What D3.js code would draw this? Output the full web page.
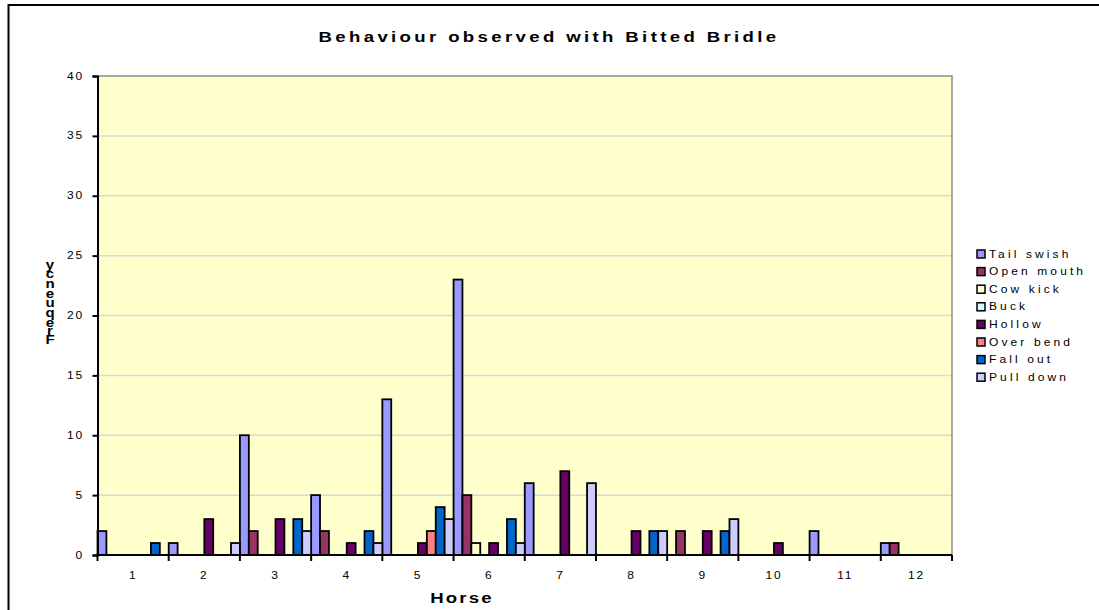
<!DOCTYPE html>
<html>
<head>
<meta charset="utf-8">
<script src="https://cdn.jsdelivr.net/npm/d3@7"></script>
<style>
  html, body { margin: 0; padding: 0; background: #fff; }
  svg { display: block; }
  text { font-family: "Liberation Sans", Arial, sans-serif; fill: #000; }
</style>
</head>
<body>
<script>
// Data
const horses = ["1", "2", "3", "4", "5", "6", "7", "8", "9", "10", "11", "12"];
const seriesNames = ["Tail swish", "Open mouth", "Cow kick", "Buck", "Hollow", "Over bend", "Fall out", "Pull down"];
const seriesColors = ["#9999FF", "#993366", "#FFFFCC", "#CCFFFF", "#660066", "#FF8080", "#0066CC", "#CCCCFF"];
const tailSwish = [2, 1, 10, 5, 13, 23, 6, 0, 0, 0, 2, 1];
const openMouth = [0, 0, 2, 2, 0, 5, 0, 0, 2, 0, 0, 1];
const cowKick   = [0, 0, 0, 0, 0, 1, 0, 0, 0, 0, 0, 0];
const buck      = [0, 0, 0, 0, 0, 0, 0, 0, 0, 0, 0, 0];
const hollow    = [0, 3, 3, 1, 1, 1, 7, 2, 2, 1, 0, 0];
const overBend  = [0, 0, 0, 0, 2, 0, 0, 0, 0, 0, 0, 0];
const fallOut   = [1, 0, 3, 2, 4, 3, 0, 2, 2, 0, 0, 0];
const pullDown  = [0, 1, 2, 1, 3, 1, 6, 2, 3, 0, 0, 0];
const yTicks = [0, 5, 10, 15, 20, 25, 30, 35, 40];

const seriesValues = [tailSwish, openMouth, cowKick, buck, hollow, overBend, fallOut, pullDown];

const width = 1099, height = 610;
const SX = 1.2; // the original render is stretched sideways

const svg = d3.select("body").append("svg")
    .attr("width", width)
    .attr("height", height);

// outer chart border (runs off the right and bottom of the picture)
svg.append("rect")
    .attr("x", 8.5).attr("y", 5)
    .attr("width", 1200).attr("height", 700)
    .attr("fill", "none")
    .attr("stroke", "#000")
    .attr("stroke-width", 2);

const plot = { left: 97.5, right: 952, top: 76, bottom: 555 };

const x = d3.scaleBand()
    .domain(horses)
    .range([plot.left, plot.right])
    .padding(0);

const xs = d3.scaleBand()
    .domain(seriesNames)
    .range([0, x.bandwidth()])
    .padding(0);

const y = d3.scaleLinear()
    .domain([0, 40])
    .range([plot.bottom, plot.top]);

const color = d3.scaleOrdinal(seriesNames, seriesColors);

// stretched text helper
function sText(parent, tx, ty, str, o) {
    const g = parent.append("g")
        .attr("transform", `translate(${tx},${ty}) scale(${SX},1)`);
    const t = g.append("text")
        .attr("text-anchor", o.anchor || "start")
        .style("font-size", o.size + "px")
        .style("font-weight", o.bold ? "bold" : "normal")
        .style("letter-spacing", (o.ls || 0) + "px")
        .text(str);
    if (o.dy) t.attr("dy", o.dy);
    return t;
}

// Plot background
svg.append("rect")
    .attr("x", plot.left).attr("y", plot.top)
    .attr("width", plot.right - plot.left)
    .attr("height", plot.bottom - plot.top)
    .attr("fill", "#FFFFCC");

// gridlines
svg.append("g")
    .selectAll("line")
    .data(yTicks.filter(d => d > 0 && d < 40))
    .enter()
    .append("line")
    .attr("x1", plot.left).attr("x2", plot.right)
    .attr("y1", d => y(d)).attr("y2", d => y(d))
    .attr("stroke", "#d9d9d9")
    .attr("stroke-width", 1.5);

// gray top + right frame
svg.append("path")
    .attr("d", `M${plot.left},${plot.top}H${plot.right}V${plot.bottom}`)
    .attr("fill", "none")
    .attr("stroke", "#8c8c8c")
    .attr("stroke-width", 1.5);

// Bars
const bars = [];
seriesNames.forEach((s, i) => {
    horses.forEach((h, j) => {
        if (seriesValues[i][j] > 0) bars.push({ series: s, horse: h, value: seriesValues[i][j] });
    });
});

svg.append("g")
    .selectAll("rect")
    .data(bars)
    .enter()
    .append("rect")
    .attr("x", d => x(d.horse) + xs(d.series))
    .attr("y", d => y(d.value))
    .attr("width", xs.bandwidth())
    .attr("height", d => y(0) - y(d.value))
    .attr("fill", d => color(d.series))
    .attr("stroke", "#000")
    .attr("stroke-width", 1.8);

// Y axis
const yAxis = svg.append("g")
    .attr("transform", `translate(${plot.left},0)`)
    .call(d3.axisLeft(y).tickValues(yTicks).tickSize(5).tickFormat(""));
yAxis.select(".domain").attr("stroke", "#000").attr("stroke-width", 2);
yAxis.selectAll(".tick line").attr("stroke", "#000").attr("stroke-width", 2);

const yLab = svg.append("g");
yTicks.forEach(t => {
    sText(yLab, 84, y(t), String(t), { size: 10, ls: 1.5, anchor: "end", dy: "0.36em" });
});

// X axis: ticks between the horses
const bounds = horses.map(h => x(h)).concat([plot.right]);
svg.append("line")
    .attr("x1", plot.left - 1).attr("x2", plot.right)
    .attr("y1", plot.bottom).attr("y2", plot.bottom)
    .attr("stroke", "#000").attr("stroke-width", 2);
svg.append("g")
    .selectAll("line")
    .data(bounds)
    .enter()
    .append("line")
    .attr("x1", d => d).attr("x2", d => d)
    .attr("y1", plot.bottom).attr("y2", plot.bottom + 6)
    .attr("stroke", "#000").attr("stroke-width", 2);

const xLab = svg.append("g");
horses.forEach(h => {
    sText(xLab, x(h) + x.bandwidth() / 2, 579, h, { size: 10, ls: 1.5, anchor: "middle" });
});

// Titles
sText(svg, 549, 42, "Behaviour observed with Bitted Bridle", { size: 15.5, bold: true, ls: 2.8, anchor: "middle" });
sText(svg, 462, 603, "Horse", { size: 15.5, bold: true, ls: 1.8, anchor: "middle" });

// Y title: rotated text drawn with upright glyphs, reads bottom to top
const yTitle = "Frequency";
const measure = svg.append("text").style("font-size", "12.5px").style("font-weight", "bold");
let pos = 343.5;
const yt = svg.append("g");
yTitle.split("").forEach(ch => {
    measure.text(ch);
    const adv = measure.node().getComputedTextLength();
    sText(yt, 50, pos - adv / 2, ch, { size: 12.5, bold: true, anchor: "middle", dy: "0.35em" });
    pos -= adv + 2.4;
});
measure.remove();

// Legend
const legend = svg.append("g");
seriesNames.forEach((s, i) => {
    const ly = 254 + i * 17.6;
    legend.append("rect")
        .attr("x", 977).attr("y", ly - 4)
        .attr("width", 8).attr("height", 8)
        .attr("fill", color(s))
        .attr("stroke", "#000")
        .attr("stroke-width", 1.5);
    sText(legend, 989, ly, s, { size: 10, ls: 2.6, dy: "0.36em" });
});
</script>
</body>
</html>
